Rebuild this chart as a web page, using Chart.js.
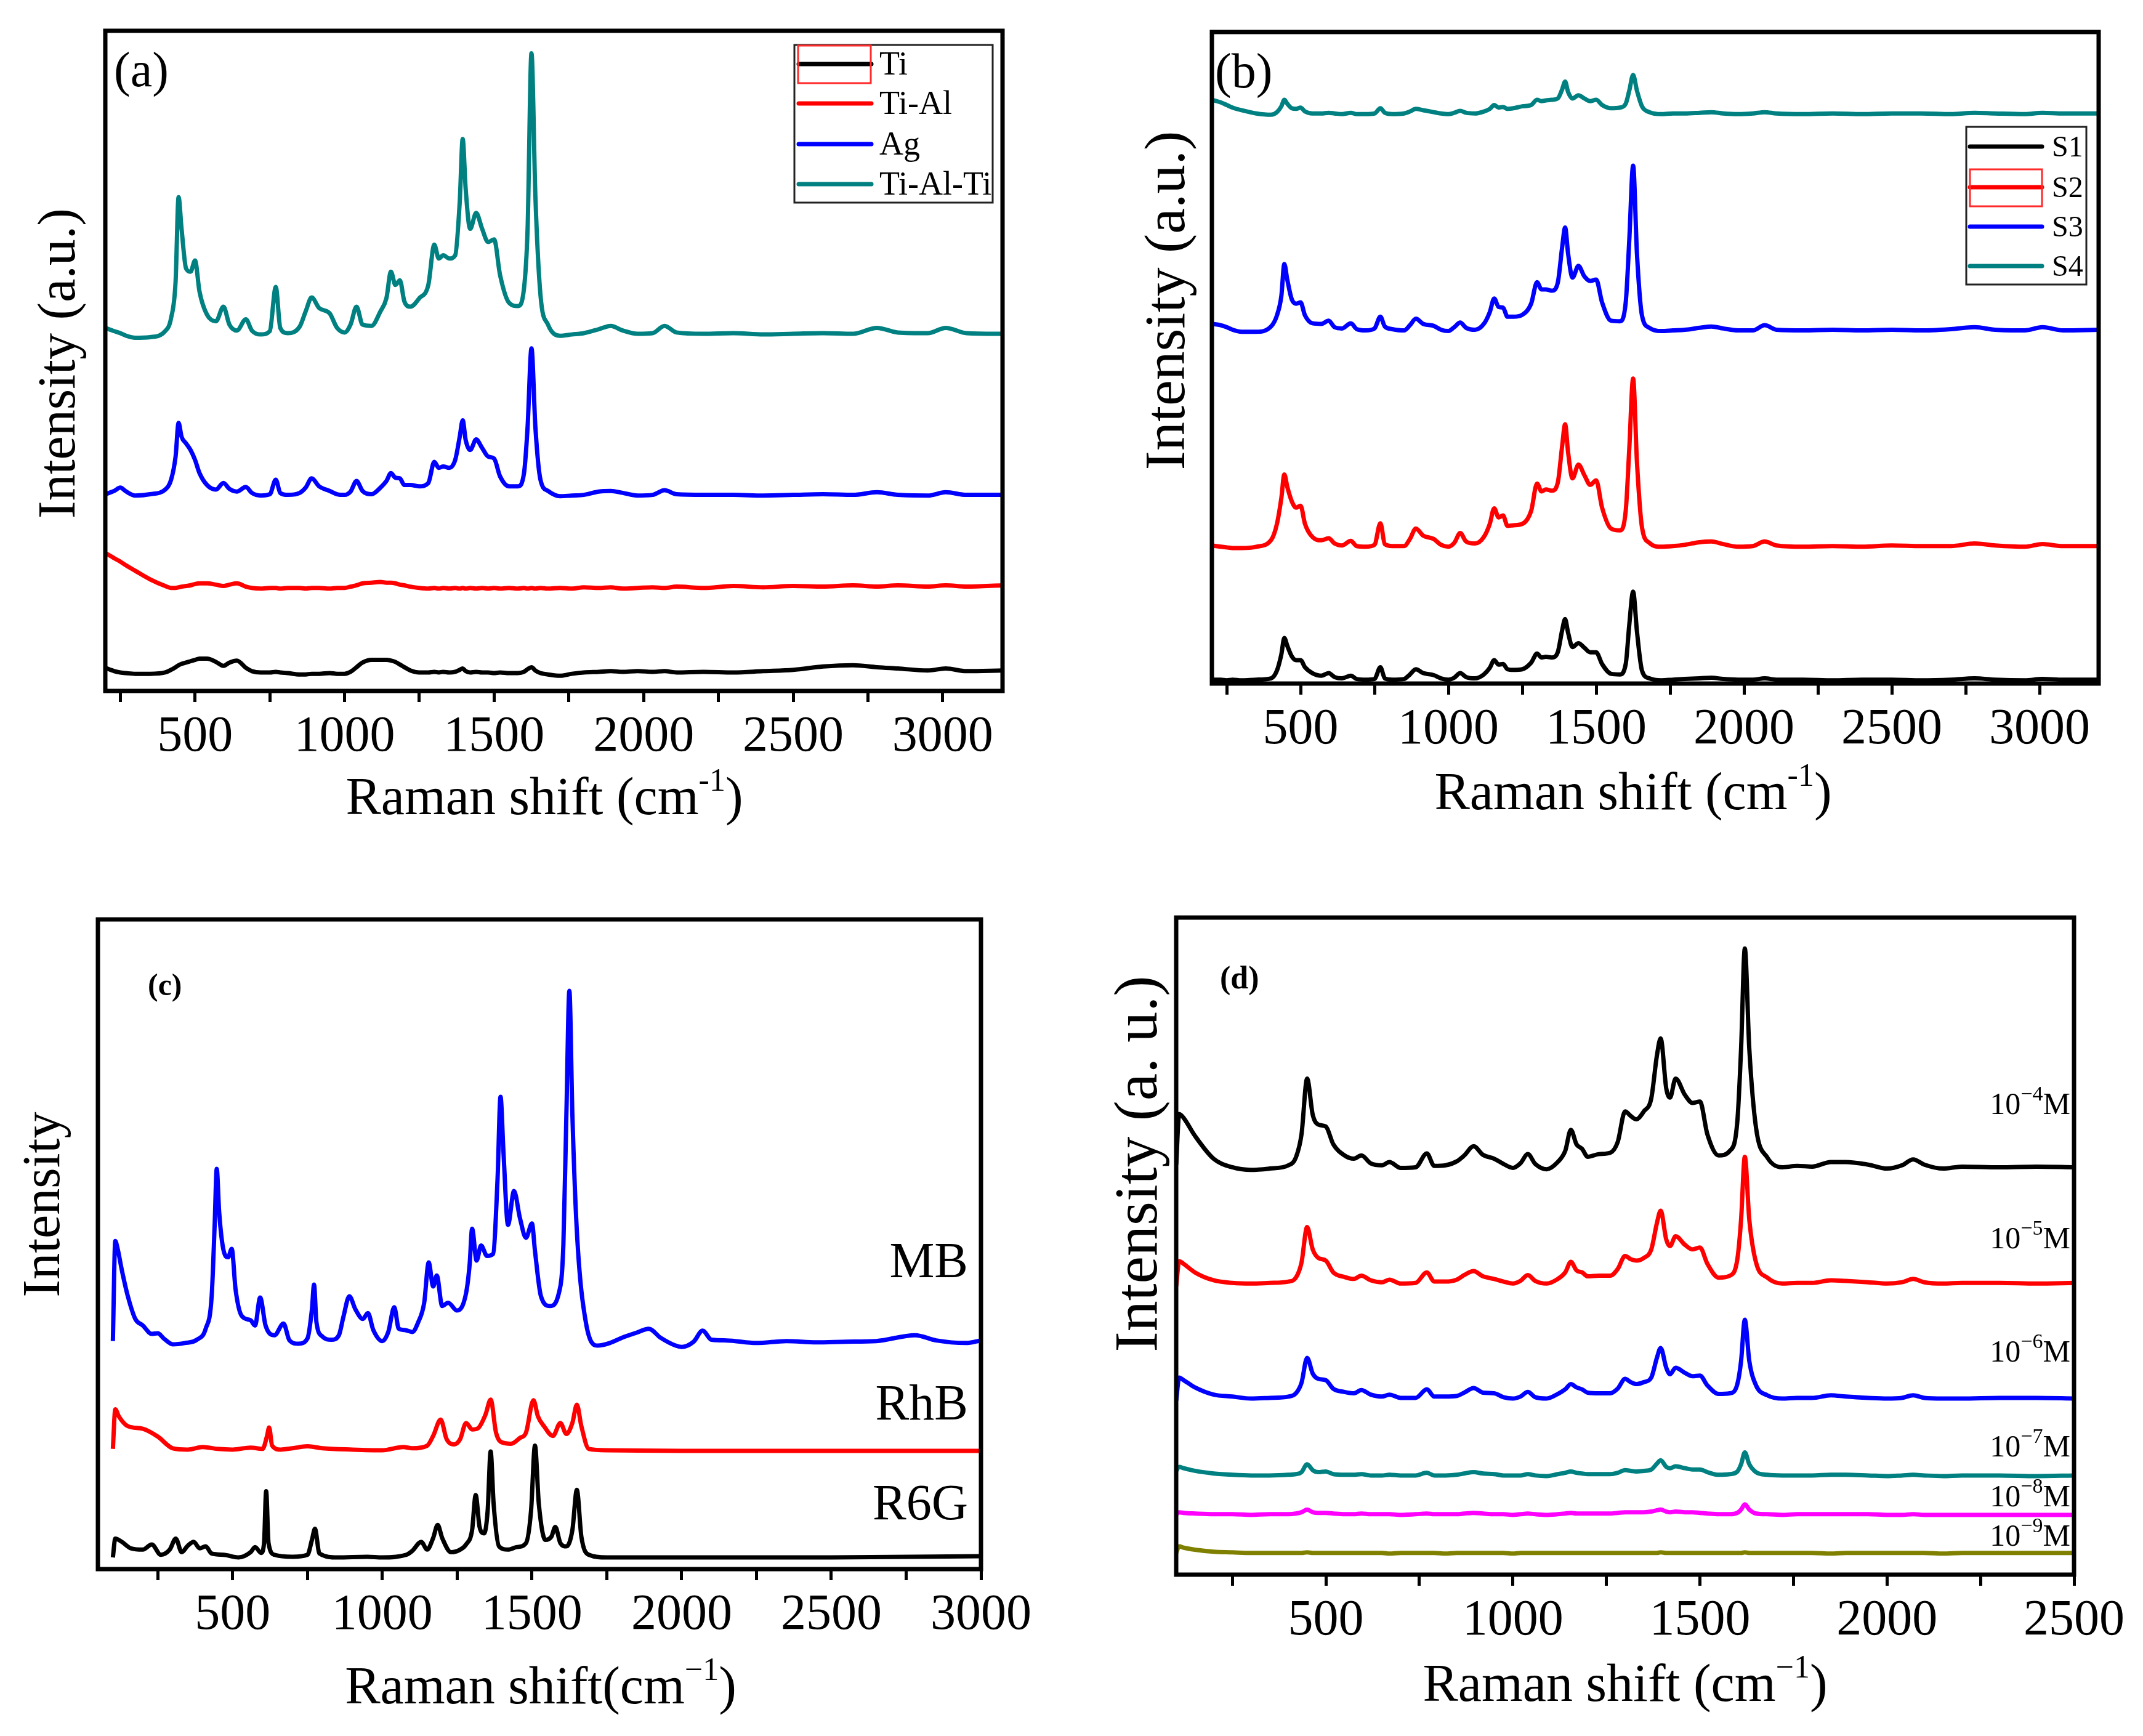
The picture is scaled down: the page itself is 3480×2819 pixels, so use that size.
<!DOCTYPE html>
<html>
<head>
<meta charset="utf-8">
<title>Raman spectra</title>
<script src="https://cdn.jsdelivr.net/npm/chart.js"></script>
<style>
    html, body { margin: 0; padding: 0; background: #fff; }
    #page { position: relative; width: 3480px; height: 2819px; background: #fff; }
    canvas { position: absolute; }
</style>
</head>
<body>
<div id="page">
    <canvas id="chartA" width="1760" height="1420" style="left:0px;top:0px"></canvas>
    <canvas id="chartB" width="1720" height="1420" style="left:1760px;top:0px"></canvas>
    <canvas id="chartC" width="1760" height="1399" style="left:0px;top:1420px"></canvas>
    <canvas id="chartD" width="1720" height="1399" style="left:1760px;top:1420px"></canvas>
</div>
<script>
// ---- data (intensity, 0 = bottom of frame, 100 = top) ----

// x-axis tick positions (labels shown every 500)
const ticksAB = [250, 500, 750, 1000, 1250, 1500, 1750, 2000, 2250, 2500, 2750, 3000];
const ticksC = [250, 500, 750, 1000, 1250, 1500, 1750, 2000, 2250, 2500, 2750, 3000];
const ticksD = [250, 500, 750, 1000, 1250, 1500, 1750, 2000, 2250, 2500];

// panels (a) and (b): shared Raman shift grid, cm-1
const ramanAB = [200, 230, 250, 270, 300, 350, 400, 420, 435, 445,
    455, 470, 485, 500, 515, 540, 570, 595, 615, 640,
    670, 690, 720, 750, 770, 785, 810, 850, 870, 890,
    915, 950, 975, 1000, 1020, 1040, 1060, 1090, 1120, 1140,
    1155, 1170, 1185, 1200, 1220, 1250, 1280, 1300, 1315, 1330,
    1350, 1370, 1385, 1395, 1405, 1420, 1440, 1460, 1480, 1500,
    1520, 1550, 1580, 1600, 1612, 1625, 1638, 1655, 1680, 1720,
    1760, 1800, 1850, 1890, 1930, 1980, 2030, 2070, 2110, 2200,
    2300, 2400, 2500, 2600, 2700, 2780, 2850, 2950, 3010, 3080,
    3200];

const namesA = ['Ti', 'Ti-Al', 'Ag', 'Ti-Al-Ti'];
const tiA = [3.5, 3.0, 2.8, 2.7, 2.6, 2.6, 2.8, 3.2, 3.6, 3.9,
    4.1, 4.3, 4.5, 4.7, 4.9, 4.9, 4.4, 3.8, 4.3, 4.6,
    3.5, 3.0, 2.8, 2.8, 2.9, 2.8, 2.7, 2.5, 2.5, 2.6,
    2.6, 2.7, 2.6, 2.6, 2.9, 3.6, 4.3, 4.7, 4.7, 4.7,
    4.6, 4.4, 4.0, 3.6, 3.1, 2.8, 2.8, 2.9, 2.8, 2.9,
    2.8, 2.9, 3.2, 3.4, 3.0, 2.8, 2.9, 2.8, 2.8, 2.7,
    2.8, 2.7, 2.7, 2.9, 3.3, 3.6, 3.1, 2.7, 2.5, 2.3,
    2.6, 2.8, 2.9, 3.0, 2.9, 3.0, 2.9, 3.0, 2.8, 2.9,
    2.8, 3.0, 3.2, 3.7, 3.9, 3.6, 3.4, 3.1, 3.4, 3.0,
    3.1];
const tiAlA = [20.9, 20.1, 19.6, 19.0, 18.2, 16.9, 15.9, 15.6, 15.6, 15.7,
    15.8, 15.9, 16.0, 16.2, 16.3, 16.3, 16.1, 15.9, 16.1, 16.3,
    15.8, 15.6, 15.5, 15.6, 15.6, 15.5, 15.6, 15.6, 15.5, 15.6,
    15.6, 15.5, 15.6, 15.6, 15.8, 16.0, 16.3, 16.4, 16.5, 16.4,
    16.4, 16.3, 16.1, 16.0, 15.8, 15.6, 15.5, 15.6, 15.5, 15.6,
    15.5, 15.6, 15.5, 15.6, 15.5, 15.6, 15.5, 15.6, 15.5, 15.6,
    15.5, 15.6, 15.5, 15.6, 15.5, 15.6, 15.5, 15.6, 15.5, 15.6,
    15.5, 15.7, 15.6, 15.7, 15.5, 15.6, 15.7, 15.6, 15.8, 15.6,
    15.9, 15.7, 15.9, 15.8, 16.0, 15.8, 16.0, 15.8, 16.0, 15.8,
    16.0];
const agA = [29.8, 30.3, 30.8, 30.2, 29.6, 29.8, 30.5, 32.0, 35.5, 40.6,
    38.5, 37.5, 36.5, 35.0, 33.0, 31.2, 30.5, 31.5, 30.6, 30.2,
    30.9, 30.0, 29.6, 29.8, 32.0, 30.0, 29.7, 30.0, 30.8, 32.2,
    31.0, 30.3, 29.8, 29.7, 30.2, 31.8, 30.3, 29.8, 30.8, 31.8,
    33.0, 32.3, 32.2, 31.2, 31.2, 31.0, 31.5, 34.7, 33.8, 34.0,
    33.8, 35.0, 38.5, 41.0, 38.0, 36.5, 38.1, 36.8, 35.5, 35.2,
    32.5, 31.0, 31.0, 33.0, 40.0, 51.9, 40.0, 32.0, 30.3, 29.5,
    29.6, 29.7, 30.2, 30.3, 30.0, 29.6, 29.7, 30.4, 29.8, 29.7,
    29.7, 29.6, 29.7, 29.8, 29.7, 30.1, 29.7, 29.6, 30.1, 29.7,
    29.7];
const tiAlTiA = [55.0, 54.5, 54.2, 53.8, 53.5, 53.6, 54.5, 56.5, 62.0, 74.8,
    70.0, 64.0, 63.5, 65.2, 60.5, 57.0, 56.0, 58.2, 55.5, 54.6,
    56.3, 54.6, 54.0, 54.5, 61.2, 55.0, 54.2, 55.2, 57.5, 59.6,
    58.0, 57.2, 55.0, 54.3, 55.5, 58.2, 55.5, 55.3, 57.5, 59.5,
    63.5, 61.5, 62.2, 59.0, 58.2, 59.5, 61.5, 67.6, 65.5, 66.0,
    65.5, 66.0, 74.0, 83.6, 76.0, 70.0, 72.4, 70.0, 68.0, 68.4,
    63.0, 58.8, 58.3, 61.0, 70.0, 96.6, 75.0, 60.0, 55.5, 53.8,
    54.0, 54.2, 54.8, 55.3, 54.6, 54.1, 54.2, 55.3, 54.3, 54.1,
    54.2, 54.0, 54.1, 54.2, 54.1, 55.0, 54.3, 54.2, 55.0, 54.2,
    54.1];

const namesB = ['S1', 'S2', 'S3', 'S4'];
const s1B = [0.6, 0.6, 0.5, 0.6, 0.5, 0.6, 0.8, 2.0, 4.5, 7.0,
    5.8, 4.2, 3.6, 3.6, 2.5, 1.6, 1.2, 1.6, 1.0, 0.8,
    1.2, 0.7, 0.6, 0.7, 2.5, 0.8, 0.6, 0.7, 1.4, 2.2,
    1.6, 1.3, 0.8, 0.6, 0.9, 1.6, 1.0, 0.8, 1.4, 2.4,
    3.6, 2.9, 3.0, 2.2, 2.1, 2.2, 3.2, 4.6, 4.0, 4.1,
    4.0, 4.8, 8.2, 9.9, 7.8, 5.6, 6.2, 5.5, 4.8, 4.8,
    3.0, 1.5, 1.4, 3.0, 9.0, 14.1, 8.0, 2.0, 0.8, 0.5,
    0.6, 0.7, 0.8, 0.9, 0.7, 0.6, 0.6, 0.8, 0.6, 0.6,
    0.5, 0.6, 0.6, 0.5, 0.6, 0.8, 0.6, 0.5, 0.7, 0.6,
    0.6];
const s2B = [21.2, 21.0, 20.9, 20.8, 20.8, 21.0, 22.0, 24.5, 28.5, 32.1,
    30.2, 28.0, 27.0, 27.3, 24.5, 22.5, 22.0, 22.3, 21.5, 21.2,
    21.9, 21.1, 21.0, 21.3, 24.6, 21.4, 21.1, 21.1, 22.2, 23.8,
    22.7, 22.2, 21.3, 21.0, 21.6, 23.1, 21.8, 21.5, 22.5, 24.5,
    26.9, 25.5, 25.8, 24.2, 24.3, 24.5, 26.5, 30.7, 29.5, 29.8,
    29.6, 30.8, 36.5, 39.8, 35.5, 31.5, 33.6, 32.0, 30.5, 31.2,
    27.0, 23.8, 23.5, 26.5, 36.0, 46.8, 34.0, 24.0, 21.6, 21.0,
    21.1, 21.3, 21.7, 21.8, 21.4, 21.0, 21.1, 21.8, 21.2, 21.0,
    21.1, 21.0, 21.2, 21.1, 21.1, 21.5, 21.2, 21.0, 21.4, 21.1,
    21.1];
const s3B = [55.2, 55.0, 54.7, 54.3, 54.0, 54.0, 54.8, 56.5, 59.5, 64.4,
    62.0, 59.0, 58.3, 58.5, 56.5, 55.3, 55.2, 55.7, 54.7, 54.5,
    55.3, 54.4, 54.2, 54.5, 56.3, 54.8, 54.4, 54.2, 55.0, 56.0,
    55.2, 54.9, 54.3, 54.1, 54.7, 55.4, 54.6, 54.3, 55.2, 57.0,
    59.1, 57.8, 57.7, 56.3, 56.3, 56.6, 58.3, 61.6, 60.5, 60.5,
    60.3, 61.5, 67.0, 70.0, 66.0, 62.3, 64.1, 62.5, 61.8, 62.0,
    58.5, 55.7, 55.6, 58.5, 68.0, 79.5, 66.0, 56.5, 54.6, 54.1,
    54.2, 54.3, 54.6, 54.8, 54.5, 54.2, 54.2, 55.0, 54.3, 54.2,
    54.3, 54.2, 54.3, 54.2, 54.4, 54.7, 54.3, 54.2, 54.7, 54.2,
    54.3];
const s4B = [89.6, 89.2, 88.8, 88.4, 88.0, 87.5, 87.3, 87.7, 88.6, 89.6,
    89.0, 88.3, 88.2, 88.4, 87.8, 87.5, 87.5, 87.6, 87.5, 87.4,
    87.6, 87.4, 87.4, 87.5, 88.3, 87.6, 87.4, 87.5, 87.8, 88.2,
    88.0, 87.7, 87.5, 87.4, 87.6, 87.9, 87.6, 87.5, 87.8, 88.2,
    88.8, 88.4, 88.5, 88.2, 88.3, 88.6, 88.8, 89.6, 89.4, 89.5,
    89.6, 89.8, 91.2, 92.4, 90.8, 89.8, 90.3, 89.8, 89.4, 89.6,
    88.8, 88.3, 88.4, 89.0, 91.0, 93.4, 91.0, 88.6, 87.7, 87.4,
    87.5, 87.5, 87.6, 87.7, 87.5, 87.4, 87.5, 87.7, 87.5, 87.4,
    87.5, 87.4, 87.5, 87.5, 87.4, 87.6, 87.5, 87.4, 87.6, 87.5,
    87.5];

// panel (c): one grid per dye
const namesC = ['MB', 'RhB', 'R6G'];
const ramanMB = [100, 108, 115, 130, 150, 175, 200, 230, 250, 270,
    300, 340, 380, 410, 430, 440, 447, 455, 470, 485,
    497, 510, 530, 560, 575, 592, 610, 640, 670, 690,
    720, 750, 765, 772, 780, 800, 830, 855, 870, 890,
    910, 935, 952, 970, 1000, 1020, 1040, 1055, 1075, 1100,
    1120, 1140, 1155, 1170, 1182, 1200, 1220, 1250, 1280, 1292,
    1300, 1315, 1330, 1350, 1370, 1385, 1395, 1405, 1420, 1440,
    1460, 1480, 1500, 1510, 1530, 1560, 1590, 1605, 1615, 1625,
    1635, 1650, 1680, 1720, 1760, 1800, 1850, 1890, 1930, 1980,
    2000, 2040, 2070, 2100, 2150, 2250, 2350, 2450, 2550, 2650,
    2780, 2850, 2950, 3000];
const mbC = [35.1, 50.5, 49.5, 46.0, 42.0, 38.5, 37.5, 36.2, 36.3, 35.5,
    34.6, 34.8, 35.3, 37.0, 42.0, 53.0, 61.6, 55.0, 49.0, 48.0,
    49.3, 43.0, 39.0, 38.3, 37.5, 41.8, 37.5, 36.0, 37.8, 35.2,
    34.7, 35.5, 40.0, 43.8, 38.0, 35.8, 35.3, 36.0, 38.8, 42.0,
    40.0, 38.5, 39.4, 36.8, 35.1, 36.5, 40.3, 37.0, 36.8, 36.5,
    38.0, 41.0, 47.2, 43.5, 45.2, 40.5, 41.0, 39.8, 42.5, 47.0,
    52.4, 47.5, 49.8, 48.2, 48.5, 60.0, 72.7, 64.0, 53.0, 58.2,
    54.0, 51.0, 53.2, 49.0, 42.0, 40.5, 42.5, 50.0, 70.0, 89.0,
    70.0, 52.0, 38.0, 34.4, 34.8, 35.6, 36.4, 37.0, 35.6, 34.4,
    34.2, 35.0, 36.7, 35.3, 35.2, 34.8, 35.1, 34.9, 35.0, 35.1,
    36.0, 35.2, 34.8, 35.2];

const ramanRhB = [100, 108, 120, 150, 200, 250, 300, 350, 400, 450,
    500, 560, 600, 615, 622, 632, 660, 700, 750, 800,
    900, 1000, 1070, 1100, 1150, 1170, 1195, 1215, 1240, 1260,
    1280, 1300, 1320, 1345, 1362, 1380, 1400, 1430, 1460, 1480,
    1505, 1520, 1540, 1570, 1595, 1615, 1635, 1650, 1665, 1690,
    1750, 2000, 2500, 3000];
const rhbC = [18.5, 24.6, 23.5, 22.0, 21.6, 20.4, 18.6, 18.4, 18.8, 18.5,
    18.4, 18.7, 18.5, 20.5, 21.8, 19.0, 18.4, 18.6, 18.9, 18.6,
    18.4, 18.3, 18.8, 18.6, 19.0, 20.5, 23.0, 20.0, 19.2, 20.0,
    22.5, 21.5, 21.7, 23.8, 26.1, 21.0, 19.5, 19.3, 20.2, 21.0,
    26.0, 23.5, 22.0, 20.5, 22.5, 20.8, 22.5, 25.3, 22.0, 18.5,
    18.3, 18.2, 18.2, 18.2];

const ramanR6G = [100, 108, 130, 160, 200, 230, 260, 290, 310, 330,
    350, 370, 390, 410, 430, 470, 520, 560, 575, 595,
    605, 612, 620, 640, 700, 750, 765, 775, 790, 850,
    950, 1000, 1080, 1100, 1130, 1150, 1170, 1185, 1200, 1230,
    1260, 1280, 1300, 1312, 1325, 1340, 1352, 1362, 1372, 1390,
    1420, 1450, 1480, 1497, 1510, 1523, 1545, 1565, 1578, 1595,
    1615, 1635, 1650, 1665, 1690, 1750, 2000, 2500, 3000];
const r6gC = [1.8, 4.7, 4.2, 3.2, 3.0, 3.8, 2.2, 3.0, 4.7, 2.6,
    3.6, 4.2, 3.2, 3.5, 2.4, 2.2, 1.8, 2.6, 3.4, 2.5,
    4.0, 12.0, 4.0, 2.2, 1.9, 2.2, 4.5, 6.2, 2.4, 1.8,
    1.9, 1.8, 2.2, 2.8, 4.2, 3.0, 4.8, 6.8, 4.8, 2.6,
    3.0, 3.8, 6.0, 11.4, 6.5, 5.5, 9.0, 18.1, 10.0, 3.5,
    3.0, 3.4, 4.0, 9.0, 19.0, 10.0, 4.5, 5.0, 6.5, 4.0,
    3.5, 6.0, 12.2, 5.0, 2.2, 1.8, 1.8, 1.8, 2.0];

// panel (d): concentration series on one grid
const ramanD = [100, 108, 120, 150, 200, 250, 300, 350, 400, 420,
    435, 450, 465, 480, 500, 520, 550, 575, 595, 620,
    650, 670, 700, 740, 770, 790, 820, 850, 870, 895,
    920, 950, 975, 1000, 1020, 1040, 1060, 1090, 1120, 1140,
    1155, 1170, 1185, 1200, 1230, 1260, 1280, 1300, 1315, 1330,
    1350, 1370, 1385, 1395, 1410, 1420, 1435, 1460, 1480, 1500,
    1520, 1550, 1580, 1600, 1610, 1620, 1632, 1650, 1680, 1720,
    1760, 1800, 1850, 1890, 1950, 2000, 2040, 2070, 2100, 2150,
    2200, 2300, 2400, 2500];
const concD = ['\u22124', '\u22125', '\u22126', '\u22127', '\u22128', '\u22129'];
const m4D = [62.4, 70.1, 69.5, 66.8, 63.3, 62.0, 61.6, 61.8, 62.3, 63.5,
    67.0, 75.5, 70.0, 68.5, 68.2, 65.5, 63.8, 63.3, 63.8, 62.6,
    62.3, 62.8, 61.9, 62.0, 64.1, 62.2, 62.3, 62.9, 63.8, 65.2,
    63.9, 63.3, 62.5, 61.9, 62.6, 64.0, 62.5, 61.7, 62.8, 64.5,
    67.7, 65.5, 64.8, 63.6, 64.0, 64.2, 65.8, 70.5, 69.8, 69.3,
    70.5, 72.5, 79.0, 81.6, 74.0, 72.6, 75.5, 73.0, 71.8, 72.0,
    67.0, 63.8, 64.5, 69.0, 80.0, 95.3, 80.0, 68.0, 63.5, 62.0,
    62.2, 62.1, 62.8, 62.8, 62.4, 61.8, 62.3, 63.2, 62.4, 61.8,
    62.1, 62.0, 62.1, 62.0];
const m5D = [43.9, 47.7, 47.3, 46.0, 44.8, 44.4, 44.3, 44.4, 44.6, 45.2,
    47.5, 52.9, 49.5, 48.2, 47.8, 46.0, 45.3, 45.0, 45.5, 44.8,
    44.5, 44.9, 44.3, 44.4, 46.0, 44.6, 44.6, 44.9, 45.6, 46.2,
    45.4, 45.0, 44.6, 44.3, 44.7, 45.6, 44.7, 44.3, 45.0, 46.0,
    47.6, 46.3, 46.0, 45.4, 45.5, 45.5, 46.5, 48.5, 48.0, 47.8,
    48.2, 49.5, 53.5, 55.4, 51.0, 50.0, 51.5, 50.2, 49.5, 49.8,
    47.3, 45.2, 45.5, 48.0, 54.0, 63.6, 54.0, 47.5, 45.2, 44.3,
    44.4, 44.4, 44.8, 44.7, 44.5, 44.3, 44.5, 45.0, 44.5, 44.3,
    44.4, 44.4, 44.3, 44.4];
const m6D = [26.5, 30.0, 29.6, 28.5, 27.4, 27.1, 26.8, 26.9, 27.1, 27.6,
    29.2, 33.0, 30.6, 29.8, 29.6, 28.3, 27.8, 27.6, 28.1, 27.4,
    27.1, 27.4, 26.9, 26.9, 28.2, 27.1, 27.1, 27.2, 27.7, 28.4,
    27.7, 27.6, 27.0, 26.8, 27.1, 27.8, 27.0, 26.8, 27.5, 28.2,
    29.0, 28.5, 28.2, 27.7, 27.6, 27.6, 28.3, 29.8, 29.3, 29.0,
    29.3, 30.0, 33.0, 34.5, 31.5, 30.5, 31.5, 30.7, 30.2, 30.3,
    28.8, 27.5, 27.6, 29.0, 32.5, 38.8, 32.5, 28.8, 27.3, 26.8,
    26.9, 26.9, 27.3, 27.1, 26.9, 26.8, 26.9, 27.3, 26.9, 26.8,
    26.8, 26.9, 26.9, 26.8];
const m7D = [15.8, 16.4, 16.2, 15.8, 15.4, 15.2, 15.1, 15.1, 15.2, 15.3,
    15.6, 16.8, 15.9, 15.6, 15.7, 15.3, 15.2, 15.2, 15.3, 15.1,
    15.1, 15.2, 15.1, 15.1, 15.5, 15.1, 15.1, 15.2, 15.4, 15.6,
    15.4, 15.3, 15.1, 15.1, 15.1, 15.3, 15.1, 15.0, 15.3, 15.5,
    15.7, 15.5, 15.4, 15.3, 15.3, 15.3, 15.5, 15.9, 15.8, 15.7,
    15.8, 16.0, 16.9, 17.4, 16.4, 16.2, 16.5, 16.2, 16.0, 16.0,
    15.6, 15.2, 15.3, 15.7, 16.8, 18.6, 16.8, 15.6, 15.2, 15.1,
    15.1, 15.1, 15.2, 15.2, 15.1, 15.0, 15.1, 15.2, 15.1, 15.0,
    15.1, 15.1, 15.0, 15.1];
const m8D = [9.2, 9.5, 9.4, 9.3, 9.2, 9.2, 9.1, 9.2, 9.2, 9.3,
    9.5, 9.9, 9.5, 9.4, 9.4, 9.3, 9.2, 9.2, 9.3, 9.2,
    9.2, 9.2, 9.1, 9.2, 9.3, 9.2, 9.2, 9.2, 9.3, 9.4,
    9.3, 9.2, 9.2, 9.1, 9.2, 9.3, 9.2, 9.1, 9.2, 9.3,
    9.4, 9.3, 9.3, 9.3, 9.3, 9.3, 9.4, 9.5, 9.5, 9.5,
    9.5, 9.6, 9.8, 9.9, 9.6, 9.5, 9.6, 9.5, 9.5, 9.4,
    9.3, 9.2, 9.2, 9.4, 9.9, 10.7, 9.9, 9.3, 9.2, 9.1,
    9.2, 9.2, 9.2, 9.2, 9.2, 9.1, 9.1, 9.2, 9.1, 9.1,
    9.1, 9.1, 9.1, 9.1];
const m9D = [3.3, 4.3, 4.1, 3.8, 3.5, 3.4, 3.3, 3.3, 3.3, 3.3,
    3.3, 3.4, 3.3, 3.3, 3.3, 3.3, 3.3, 3.3, 3.3, 3.3,
    3.3, 3.2, 3.3, 3.3, 3.3, 3.3, 3.2, 3.3, 3.3, 3.3,
    3.3, 3.3, 3.3, 3.2, 3.3, 3.3, 3.3, 3.3, 3.3, 3.3,
    3.3, 3.3, 3.3, 3.3, 3.3, 3.3, 3.3, 3.3, 3.3, 3.3,
    3.3, 3.3, 3.3, 3.4, 3.3, 3.3, 3.3, 3.3, 3.3, 3.3,
    3.3, 3.3, 3.3, 3.3, 3.3, 3.4, 3.3, 3.3, 3.3, 3.3,
    3.3, 3.3, 3.2, 3.3, 3.3, 3.3, 3.3, 3.3, 3.3, 3.2,
    3.3, 3.3, 3.3, 3.3];

// ---- drawing ----
const SERIF = "'Liberation Serif', 'Times New Roman', serif";
const BLACK = '#000000', RED = '#ff0000', BLUE = '#0000ff', TEAL = '#008080', MAGENTA = '#ff00ff', OLIVE = '#808000';

Chart.defaults.font.family = SERIF;
Chart.defaults.color = '#000';

function zip(xs, ys) {
    if (xs.length !== ys.length) console.warn('length mismatch', xs.length, ys.length);
    return xs.map((x, i) => ({ x: x, y: ys[i] }));
}

// draws a run of text pieces: [text, size, dy, bold]
function drawRun(ctx, parts, x, y, align) {
    let total = 0;
    const widths = parts.map(p => {
        ctx.font = (p[3] ? 'bold ' : '') + p[1] + 'px ' + SERIF;
        const w = ctx.measureText(p[0]).width;
        total += w;
        return w;
    });
    let cx = x;
    if (align === 'center') cx = x - total / 2;
    if (align === 'right') cx = x - total;
    ctx.textAlign = 'left';
    ctx.textBaseline = 'alphabetic';
    parts.forEach((p, i) => {
        ctx.font = (p[3] ? 'bold ' : '') + p[1] + 'px ' + SERIF;
        ctx.fillText(p[0], cx, y + p[2]);
        cx += widths[i];
    });
}

// frame, axis titles, panel tag, legend and curve labels (page coordinates)
function makeDecor(d) {
    return {
        id: 'decor',
        afterDatasetsDraw(chart) {
            const ctx = chart.ctx;
            const a = chart.chartArea;
            const ox = d.offset[0], oy = d.offset[1];
            ctx.save();
            ctx.strokeStyle = '#000';
            ctx.lineWidth = 7;
            ctx.strokeRect(a.left, a.top, a.right - a.left, a.bottom - a.top);
            ctx.fillStyle = '#000';

            ctx.save();
            ctx.translate(d.yTitle.x - ox, d.yTitle.y - oy);
            ctx.rotate(-Math.PI / 2);
            ctx.font = d.yTitle.size + 'px ' + SERIF;
            ctx.textAlign = 'center';
            ctx.textBaseline = 'middle';
            ctx.fillText(d.yTitle.text, 0, 0);
            ctx.restore();

            drawRun(ctx, d.xTitle.parts, d.xTitle.x - ox, d.xTitle.y - oy, 'center');
            drawRun(ctx, d.tag.parts, d.tag.x - ox, d.tag.y - oy, 'left');

            if (d.legend) {
                const L = d.legend;
                ctx.lineWidth = 3;
                ctx.strokeStyle = '#222';
                ctx.strokeRect(L.box[0] - ox, L.box[1] - oy, L.box[2] - L.box[0], L.box[3] - L.box[1]);
                chart.data.datasets.forEach((ds, i) => {
                    const yy = L.rows[i] - oy;
                    ctx.strokeStyle = ds.borderColor;
                    ctx.lineWidth = 7;
                    ctx.lineCap = 'round';
                    ctx.beginPath();
                    ctx.moveTo(L.line[0] - ox, yy);
                    ctx.lineTo(L.line[1] - ox, yy);
                    ctx.stroke();
                    ctx.fillStyle = '#000';
                    ctx.font = L.size + 'px ' + SERIF;
                    ctx.textAlign = 'left';
                    ctx.textBaseline = 'middle';
                    ctx.fillText(ds.label, L.textX - ox, yy + 3);
                });
                if (L.mark) {
                    ctx.lineWidth = 3;
                    ctx.lineCap = 'butt';
                    ctx.strokeStyle = '#ff2a2a';
                    const m = L.mark;
                    ctx.strokeRect(m[0] - ox, m[1] - oy, m[2] - m[0], m[3] - m[1]);
                }
            }

            ctx.fillStyle = '#000';
            (d.labels || []).forEach(l => drawRun(ctx, l.parts, l.x - ox, l.y - oy, 'right'));
            ctx.restore();
        }
    };
}

function buildChart(id, cfg) {
    const datasets = cfg.series.map(s => ({
        label: s.name,
        data: zip(s.xs, s.ys),
        borderColor: s.color,
        backgroundColor: s.color,
        borderWidth: 7,
        pointRadius: 0,
        fill: false,
        cubicInterpolationMode: 'monotone'
    }));

    new Chart(document.getElementById(id), {
        type: 'line',
        data: { datasets: datasets },
        options: {
            responsive: false,
            animation: false,
            devicePixelRatio: 1,
            layout: { padding: { left: cfg.pad[0], top: cfg.pad[1], right: cfg.pad[2], bottom: 0 } },
            scales: {
                x: {
                    type: 'linear',
                    min: cfg.xMin,
                    max: cfg.xMax,
                    afterBuildTicks: scale => {
                        scale.ticks = cfg.ticks.map(v => ({ value: v }));
                    },
                    afterFit: scale => { scale.height = cfg.axisHeight; },
                    border: { display: false },
                    grid: {
                        drawOnChartArea: false,
                        drawTicks: true,
                        tickLength: 18,
                        tickWidth: 5,
                        color: '#000'
                    },
                    ticks: {
                        autoSkip: false,
                        maxRotation: 0,
                        padding: 8,
                        color: '#000',
                        font: { family: SERIF, size: 82 },
                        callback: v => (v % 500 === 0 ? String(v) : '')
                    }
                },
                y: { display: false, min: 0, max: 100 }
            },
            plugins: {
                legend: { display: false },
                tooltip: { enabled: false }
            }
        },
        plugins: [makeDecor(cfg.decor)]
    });
}

const titleAB = [['Raman shift (cm', 86, 0], ['-1', 52, -38], [')', 86, 0]];

buildChart('chartA', {
    pad: [171, 50, 132], axisHeight: 298, xMin: 200, xMax: 3200, ticks: ticksAB,
    series: [
        { name: namesA[0], xs: ramanAB, ys: tiA, color: BLACK },
        { name: namesA[1], xs: ramanAB, ys: tiAlA, color: RED },
        { name: namesA[2], xs: ramanAB, ys: agA, color: BLUE },
        { name: namesA[3], xs: ramanAB, ys: tiAlTiA, color: TEAL }
    ],
    decor: {
        offset: [0, 0],
        yTitle: { text: 'Intensity (a.u.)', x: 98, y: 590, size: 86 },
        xTitle: { parts: titleAB, x: 884, y: 1322 },
        tag: { parts: [['(a)', 80, 0]], x: 185, y: 140 },
        legend: { box: [1290, 73, 1612, 329], line: [1297, 1415], rows: [104, 168, 234, 299], textX: 1428, size: 54, mark: [1296, 74, 1414, 135] }
    }
});

buildChart('chartB', {
    pad: [208, 52, 72], axisHeight: 310, xMin: 200, xMax: 3200, ticks: ticksAB,
    series: [
        { name: namesB[0], xs: ramanAB, ys: s1B, color: BLACK },
        { name: namesB[1], xs: ramanAB, ys: s2B, color: RED },
        { name: namesB[2], xs: ramanAB, ys: s3B, color: BLUE },
        { name: namesB[3], xs: ramanAB, ys: s4B, color: TEAL }
    ],
    decor: {
        offset: [1760, 0],
        yTitle: { text: 'Intensity (a.u.)', x: 1898, y: 488, size: 94 },
        xTitle: { parts: titleAB, x: 2652, y: 1314 },
        tag: { parts: [['(b)', 80, 0]], x: 1973, y: 142 },
        legend: { box: [3193, 206, 3388, 462], line: [3199, 3316], rows: [238, 304, 368, 432], textX: 3332, size: 48, mark: [3199, 275, 3316, 335] }
    }
});

buildChart('chartC', {
    pad: [159, 73, 167], axisHeight: 271, xMin: 50, xMax: 3000, ticks: ticksC,
    series: [
        { name: namesC[0], xs: ramanMB, ys: mbC, color: BLUE },
        { name: namesC[1], xs: ramanRhB, ys: rhbC, color: RED },
        { name: namesC[2], xs: ramanR6G, ys: r6gC, color: BLACK }
    ],
    decor: {
        offset: [0, 1420],
        yTitle: { text: 'Intensity', x: 73, y: 1956, size: 86 },
        xTitle: { parts: [['Raman shift(cm', 86, 0], ['\u22121', 52, -38], [')', 86, 0]], x: 878, y: 2766 },
        tag: { parts: [['(c)', 50, 0, true]], x: 240, y: 1616 },
        labels: [
            { parts: [[namesC[0], 82, 0]], x: 1572, y: 2074 },
            { parts: [[namesC[1], 82, 0]], x: 1572, y: 2305 },
            { parts: [[namesC[2], 82, 0]], x: 1572, y: 2467 }
        ]
    }
});

const labelYD = [1809, 2027, 2211, 2365, 2446, 2510];
buildChart('chartD', {
    pad: [150, 70, 112], axisHeight: 262, xMin: 100, xMax: 2500, ticks: ticksD,
    series: [
        { name: '10' + concD[0] + 'M', xs: ramanD, ys: m4D, color: BLACK },
        { name: '10' + concD[1] + 'M', xs: ramanD, ys: m5D, color: RED },
        { name: '10' + concD[2] + 'M', xs: ramanD, ys: m6D, color: BLUE },
        { name: '10' + concD[3] + 'M', xs: ramanD, ys: m7D, color: TEAL },
        { name: '10' + concD[4] + 'M', xs: ramanD, ys: m8D, color: MAGENTA },
        { name: '10' + concD[5] + 'M', xs: ramanD, ys: m9D, color: OLIVE }
    ],
    decor: {
        offset: [1760, 1420],
        yTitle: { text: 'Intensity (a. u.)', x: 1852, y: 1890, size: 100 },
        xTitle: { parts: [['Raman shift (cm', 86, 0], ['\u22121', 52, -38], [')', 86, 0]], x: 2639, y: 2762 },
        tag: { parts: [['(d)', 52, 0, true]], x: 1981, y: 1605 },
        labels: concD.map((c, i) => ({ parts: [['10', 50, 0], [c, 34, -22], ['M', 50, 0]], x: 3362, y: labelYD[i] }))
    }
});
</script>
</body>
</html>
